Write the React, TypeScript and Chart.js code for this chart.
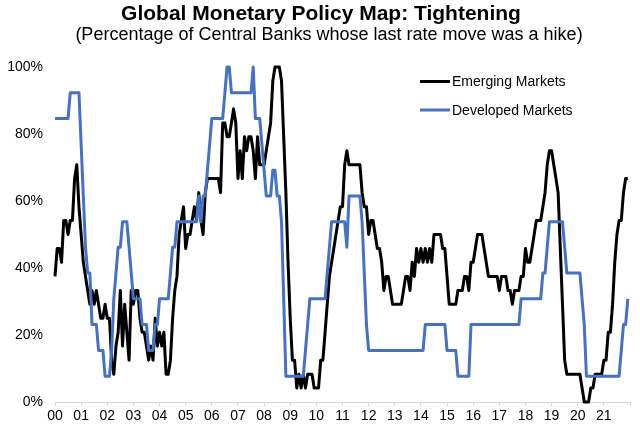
import React, { useEffect, useRef } from "react";
import { Chart, registerables } from "chart.js";

Chart.register(...registerables);

// ---- data (monthly, Jan 2000 .. Dec 2021) ----
const startYear = 2000;
const endYear = 2022;
const titleText = "Global Monetary Policy Map: Tightening";
const subtitleText = "(Percentage of Central Banks whose last rate move was a hike)";
const seriesNames = ["Emerging Markets", "Developed Markets"];
const seriesColors = ["#000000", "#4472C4"];
const yTickValues = [0, 20, 40, 60, 80, 100];

const emValues = [
  // 2000
  37.5, 45.8, 45.8, 41.7, 54.2, 54.2, 50, 54.2, 54.2, 66.7, 70.8, 58.3,
  // 2001
  50, 41.7, 37.5, 33.3, 29.2, 33.3, 29.2, 33.3, 29.2, 25, 25, 29.2,
  // 2002
  25, 25, 12.5, 8.3, 16.7, 20.8, 33.3, 16.7, 29.2, 20.8, 12.5, 33.3,
  // 2003
  29.2, 33.3, 33.3, 25, 20.8, 20.8, 16.7, 12.5, 16.7, 12.5, 25, 16.7,
  // 2004
  20.8, 16.7, 20.8, 8.3, 8.3, 12.5, 25, 33.3, 37.5, 50, 54.2, 58.3,
  // 2005
  45.8, 50, 50, 54.2, 58.3, 54.2, 62.5, 54.2, 50, 62.5, 66.7, 66.7,
  // 2006
  66.7, 66.7, 66.7, 66.7, 62.5, 83.3, 83.3, 79.2, 79.2, 83.3, 87.5, 83.3,
  // 2007
  66.7, 75, 66.7, 79.2, 75, 79.2, 79.2, 75, 66.7, 79.2, 70.8, 70.8,
  // 2008
  70.8, 75, 79.2, 83.3, 95.8, 100, 100, 100, 95.8, 79.2, 62.5, 41.7,
  // 2009
  25, 12.5, 12.5, 4.2, 8.3, 4.2, 8.3, 4.2, 8.3, 8.3, 8.3, 4.2,
  // 2010
  4.2, 4.2, 12.5, 12.5, 20.8, 29.2, 37.5, 41.7, 45.8, 50, 54.2, 58.3,
  // 2011
  58.3, 70.8, 75, 70.8, 70.8, 70.8, 70.8, 70.8, 70.8, 62.5, 58.3, 58.3,
  // 2012
  50, 54.2, 54.2, 50, 45.8, 45.8, 41.7, 33.3, 37.5, 37.5, 33.3, 29.2,
  // 2013
  29.2, 29.2, 29.2, 29.2, 33.3, 37.5, 37.5, 33.3, 41.7, 37.5, 45.8, 41.7,
  // 2014
  45.8, 41.7, 45.8, 41.7, 45.8, 41.7, 50, 50, 50, 50, 45.8, 45.8,
  // 2015
  37.5, 29.2, 29.2, 29.2, 29.2, 33.3, 33.3, 33.3, 37.5, 37.5, 33.3, 41.7,
  // 2016
  41.7, 45.8, 50, 50, 50, 45.8, 41.7, 37.5, 37.5, 37.5, 37.5, 37.5,
  // 2017
  33.3, 37.5, 37.5, 37.5, 33.3, 33.3, 29.2, 33.3, 33.3, 33.3, 37.5, 37.5,
  // 2018
  45.8, 41.7, 41.7, 45.8, 50, 54.2, 54.2, 54.2, 58.3, 62.5, 70.8, 75,
  // 2019
  75, 70.8, 66.7, 62.5, 45.8, 29.2, 12.5, 8.3, 8.3, 8.3, 8.3, 8.3,
  // 2020
  8.3, 8.3, 4.2, 0, 0, 0, 4.2, 4.2, 8.3, 8.3, 8.3, 8.3,
  // 2021
  12.5, 12.5, 20.8, 20.8, 29.2, 41.7, 50, 54.2, 54.2, 62.5, 66.7, 66.7,
];

const dmValues = [
  // 2000
  84.6, 84.6, 84.6, 84.6, 84.6, 84.6, 84.6, 92.3, 92.3, 92.3, 92.3, 92.3,
  // 2001
  76.9, 61.5, 46.2, 38.5, 38.5, 23.1, 23.1, 23.1, 15.4, 15.4, 15.4, 7.7,
  // 2002
  7.7, 7.7, 15.4, 30.8, 38.5, 46.2, 46.2, 53.8, 53.8, 53.8, 46.2, 38.5,
  // 2003
  30.8, 30.8, 30.8, 30.8, 23.1, 23.1, 23.1, 15.4, 15.4, 15.4, 23.1, 23.1,
  // 2004
  30.8, 30.8, 30.8, 30.8, 30.8, 38.5, 46.2, 46.2, 53.8, 53.8, 53.8, 53.8,
  // 2005
  53.8, 53.8, 53.8, 53.8, 53.8, 53.8, 61.5, 53.8, 61.5, 61.5, 69.2, 76.9,
  // 2006
  84.6, 84.6, 84.6, 84.6, 84.6, 84.6, 92.3, 100, 100, 92.3, 92.3, 92.3,
  // 2007
  92.3, 92.3, 92.3, 92.3, 92.3, 92.3, 92.3, 100, 84.6, 84.6, 84.6, 76.9,
  // 2008
  69.2, 61.5, 61.5, 61.5, 69.2, 69.2, 61.5, 61.5, 53.8, 30.8, 7.7, 7.7,
  // 2009
  7.7, 7.7, 7.7, 7.7, 7.7, 7.7, 7.7, 15.4, 23.1, 30.8, 30.8, 30.8,
  // 2010
  30.8, 30.8, 30.8, 30.8, 30.8, 38.5, 46.2, 53.8, 53.8, 53.8, 53.8, 53.8,
  // 2011
  53.8, 53.8, 46.2, 61.5, 61.5, 61.5, 61.5, 61.5, 61.5, 53.8, 38.5, 23.1,
  // 2012
  15.4, 15.4, 15.4, 15.4, 15.4, 15.4, 15.4, 15.4, 15.4, 15.4, 15.4, 15.4,
  // 2013
  15.4, 15.4, 15.4, 15.4, 15.4, 15.4, 15.4, 15.4, 15.4, 15.4, 15.4, 15.4,
  // 2014
  15.4, 15.4, 23.1, 23.1, 23.1, 23.1, 23.1, 23.1, 23.1, 23.1, 23.1, 23.1,
  // 2015
  15.4, 15.4, 15.4, 15.4, 15.4, 7.7, 7.7, 7.7, 7.7, 7.7, 7.7, 23.1,
  // 2016
  23.1, 23.1, 23.1, 23.1, 23.1, 23.1, 23.1, 23.1, 23.1, 23.1, 23.1, 23.1,
  // 2017
  23.1, 23.1, 23.1, 23.1, 23.1, 23.1, 23.1, 23.1, 23.1, 23.1, 30.8, 30.8,
  // 2018
  30.8, 30.8, 30.8, 30.8, 30.8, 30.8, 30.8, 30.8, 38.5, 38.5, 46.2, 53.8,
  // 2019
  53.8, 53.8, 53.8, 53.8, 53.8, 53.8, 46.2, 38.5, 38.5, 38.5, 38.5, 38.5,
  // 2020
  38.5, 38.5, 30.8, 23.1, 7.7, 7.7, 7.7, 7.7, 7.7, 7.7, 7.7, 7.7,
  // 2021
  7.7, 7.7, 7.7, 7.7, 7.7, 7.7, 7.7, 7.7, 15.4, 23.1, 23.1, 30.8,
];

const FONT = '"Liberation Sans", Arial, Helvetica, sans-serif';

function toPoints(values: number[]) {
  return values.map((v, i) => ({ x: startYear + i / 12, y: v }));
}

const overlayPlugin = {
  id: "overlay",
  afterDraw(chart: any) {
    const ctx = chart.ctx as CanvasRenderingContext2D;
    ctx.save();
    ctx.fillStyle = "#000";
    ctx.textAlign = "center";
    ctx.textBaseline = "middle";
    ctx.font = `bold 21px ${FONT}`;
    ctx.fillText(titleText, 321, 14);
    ctx.font = `18px ${FONT}`;
    ctx.fillText(subtitleText, 329, 35);

    // legend
    ctx.textAlign = "left";
    ctx.font = `14px ${FONT}`;
    seriesNames.forEach((name, i) => {
      const y = 81.5 + i * 28.5;
      ctx.strokeStyle = seriesColors[i];
      ctx.lineWidth = 3;
      ctx.beginPath();
      ctx.moveTo(420, y);
      ctx.lineTo(450, y);
      ctx.stroke();
      ctx.fillStyle = "#000";
      ctx.fillText(name, 452, y + 1);
    });
    ctx.restore();
  },
};

export default function App() {
  const canvasRef = useRef<HTMLCanvasElement | null>(null);

  useEffect(() => {
    const canvas = canvasRef.current;
    if (!canvas) return;
    const chart = new Chart(canvas, {
      type: "line",
      data: {
        datasets: [
          {
            label: seriesNames[0],
            data: toPoints(emValues),
            borderColor: seriesColors[0],
            borderWidth: 3,
            pointRadius: 0,
            tension: 0,
            borderJoinStyle: "round",
            clip: false as any,
            order: 2,
          },
          {
            label: seriesNames[1],
            data: toPoints(dmValues),
            borderColor: seriesColors[1],
            borderWidth: 3,
            pointRadius: 0,
            tension: 0,
            borderJoinStyle: "round",
            clip: false as any,
            order: 1,
          },
        ],
      },
      options: {
        responsive: false,
        animation: false,
        devicePixelRatio: 1,
        layout: { padding: { top: 67, right: 10, left: 0, bottom: 0 } },
        plugins: {
          legend: { display: false },
          title: { display: false },
          tooltip: { enabled: false },
        },
        scales: {
          x: {
            type: "linear",
            min: startYear,
            max: endYear,
            ticks: {
              stepSize: 1,
              autoSkip: false,
              maxRotation: 0,
              padding: 2,
              color: "#000",
              font: { size: 14, family: FONT },
              callback: (v: any) =>
                Number(v) < endYear ? String(Number(v) % 100).padStart(2, "0") : "",
            },
            grid: {
              display: true,
              drawOnChartArea: false,
              drawTicks: true,
              tickLength: 4,
              color: "#d9d9d9",
              lineWidth: 1,
            },
            border: { display: true, color: "#d9d9d9", width: 1 },
            afterFit: (s: any) => {
              s.height = 24;
            },
          },
          y: {
            min: 0,
            max: 100,
            afterBuildTicks: (s: any) => {
              s.ticks = yTickValues.map((v) => ({ value: v }));
            },
            ticks: {
              padding: 12,
              color: "#000",
              font: { size: 14, family: FONT },
              callback: (v: any) => `${v}%`,
            },
            grid: { display: false, drawTicks: false },
            border: { display: false },
            afterFit: (s: any) => {
              s.width = 55;
            },
          },
        },
      },
      plugins: [overlayPlugin],
    });
    return () => chart.destroy();
  }, []);

  return (
    <div style={{ position: "fixed", left: 0, top: 0, width: 640, height: 426, background: "#fff" }}>
      <canvas ref={canvasRef} width={640} height={426} style={{ display: "block" }} />
    </div>
  );
}
